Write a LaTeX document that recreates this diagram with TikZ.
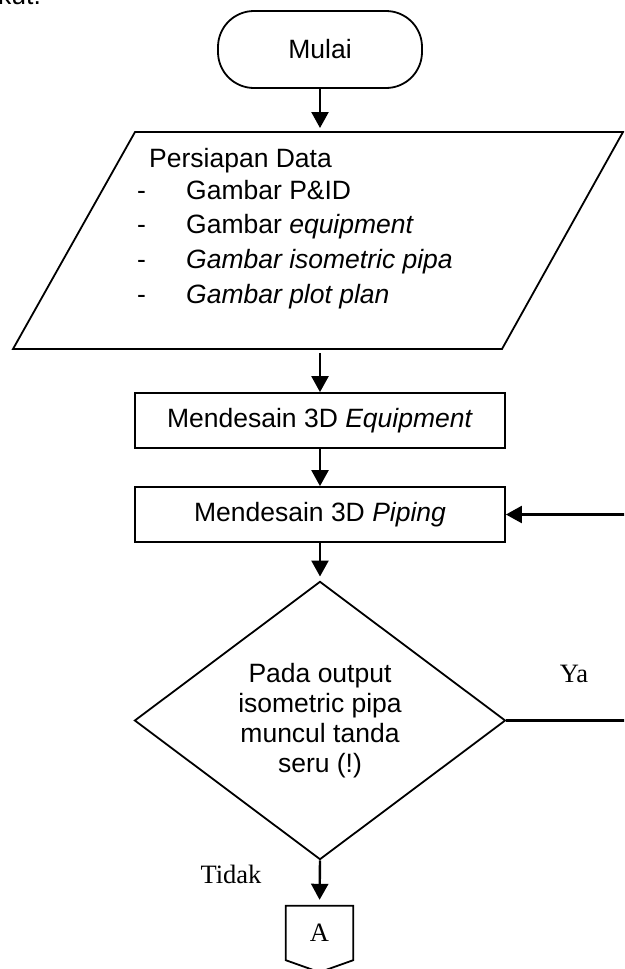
\documentclass[tikz,border=0pt]{standalone}
\usepackage{fontspec}
\setmainfont{Liberation Serif}
\newfontfamily\arialf{Liberation Sans}
\usetikzlibrary{shapes.geometric,arrows.meta,calc}
\begin{document}
\begin{tikzpicture}[x=1pt,y=-1pt,
  shape line/.style={draw=black,line width=1.8pt},
  flowarrow/.style={line width=2.4pt,-{Triangle[length=16pt,width=17pt]}},
  sanstext/.style={font=\arialf\fontsize{26.5}{30}\selectfont},
  seriftext/.style={font=\fontsize{26.5}{30}\selectfont},
  terminal/.style={shape line,rectangle,rounded corners=36pt,minimum width=204pt,minimum height=77pt,inner sep=0pt,sanstext},
  procbox/.style={shape line,rectangle,minimum width=370pt,minimum height=55pt,inner sep=0pt,sanstext},
  decision/.style={shape line,diamond,minimum width=371pt,minimum height=275pt,inner sep=0pt,align=center,sanstext},
  listtext/.style={sanstext,anchor=base west,inner sep=0pt},
]
\useasboundingbox (0,0) rectangle (624,969);
\clip (0,0) rectangle (624,969);

% cut-off text at the top-left corner
\node[listtext] (kut) at (-2,5) {kut.};

% start terminal
\node[terminal] (start) at (320,49.5) {Mulai};

% data parallelogram
\coordinate (dTL) at (135,132);
\coordinate (dTR) at (623,132);
\coordinate (dBR) at (502,349);
\coordinate (dBL) at (13,349);
\coordinate (dataTop) at (320,132);
\coordinate (dataBot) at (320,349);
\draw[shape line] (dTL) -- (dTR) -- (dBR) -- (dBL) -- cycle;

\node[listtext] (d0) at (149,167) {Persiapan Data};
\node[listtext] (m1) at (137,199) {-};
\node[listtext] (d1) at (186,199) {Gambar P\&ID};
\node[listtext] (m2) at (137,233) {-};
\node[listtext] (d2) at (186,233) {Gambar \textit{equipment}};
\node[listtext] (m3) at (137,268) {-};
\node[listtext] (d3) at (186,268) {\textit{Gambar isometric pipa}};
\node[listtext] (m4) at (137,303) {-};
\node[listtext] (d4) at (186,303) {\textit{Gambar plot plan}};

% process boxes
\node[procbox] (equip) at (320,420.5) {Mendesain 3D \textit{Equipment}};
\node[procbox] (piping) at (320,514.5) {Mendesain 3D \textit{Piping}};

% decision
\node[decision] (dec) at (320,720.5) {Pada output\\isometric pipa\\muncul tanda\\seru (!)};

% off-page connector
\node[seriftext,minimum width=67pt,minimum height=54pt,inner sep=0pt] (conA) at (319.5,933) {A};
\draw[shape line] (conA.north west) -- (conA.north east) -- (conA.south east)
  -- ($(conA.south)+(0,12)$) -- (conA.south west) -- cycle;

% labels
\node[seriftext,anchor=base,inner sep=0pt] (ya) at (574,682) {Ya};
\node[seriftext,anchor=base,inner sep=0pt] (tidak) at (231,883) {Tidak};

% connectors
\draw[flowarrow,shorten >=4pt] (start.south) -- (dataTop);
\draw[flowarrow,shorten <=4pt] (dataBot) -- (equip.north);
\draw[flowarrow] (equip.south) -- (piping.north);
\draw[flowarrow,shorten >=4pt] (piping.south) -- (dec.north);
\coordinate (loopR) at (640,720.5);
\draw[flowarrow] (dec.east) -- (loopR) |- (piping.east);
\draw[flowarrow,shorten >=6pt] (dec.south) -- (conA.north);
\end{tikzpicture}
\end{document}
